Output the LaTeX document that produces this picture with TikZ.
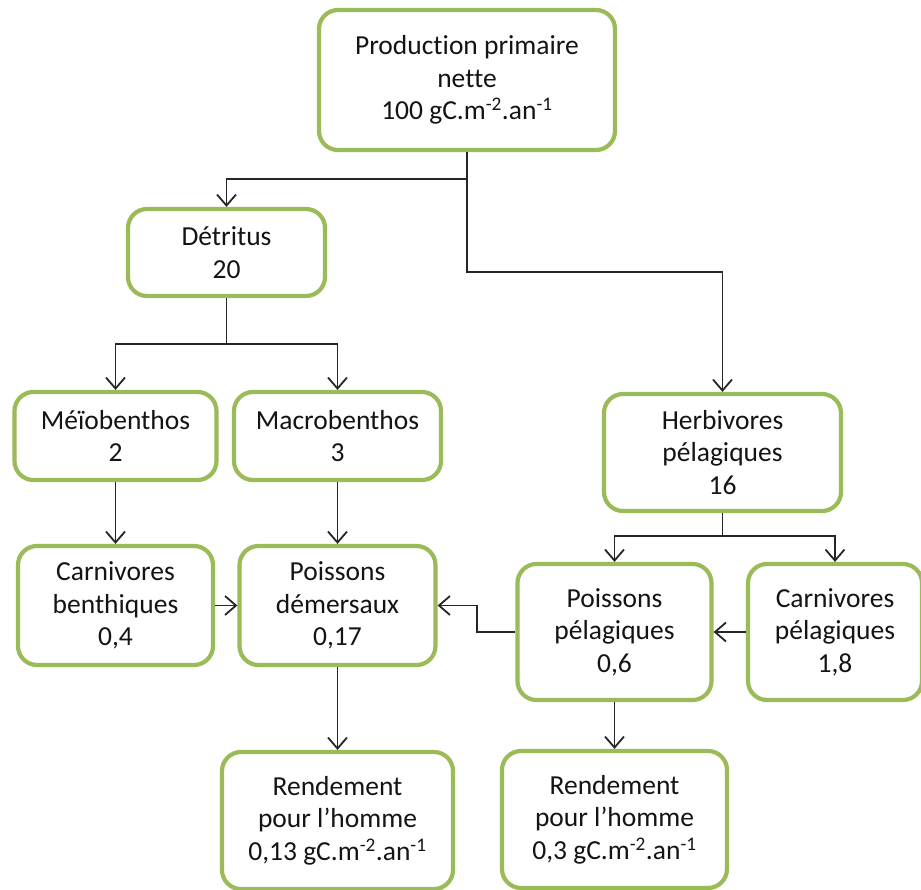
\documentclass[tikz,border=0pt]{standalone}
\usepackage{fontspec}
\setmainfont{Carlito}[Ligatures=CommonOff]
\usetikzlibrary{arrows.meta}
\definecolor{boxgreen}{HTML}{9BBB59}
\definecolor{txt}{HTML}{141414}
\tikzset{
  box/.style={draw=boxgreen, line width=4.2pt, rounded corners=19pt, fill=white,
    inner sep=0pt, align=center, text=txt,
    font=\fontsize{27.5}{32.5}\selectfont},
  conn/.style={draw=black!85, line width=1.8pt},
  arr/.style={conn, -{Straight Barb[length=11pt,width=19pt,line width=1.8pt]}}
}
\begin{document}
\begin{tikzpicture}[x=1pt,y=-1pt]
\useasboundingbox (0,0) rectangle (921,890);
\fill[white] (0,0) rectangle (921,890);

\node[box, minimum width=296pt, minimum height=140pt] (top) at (467,80)
  {Production primaire\\nette\\100 gC.m\textsuperscript{-2}.an\textsuperscript{-1}};
\node[box, minimum width=197pt, minimum height=87pt] (det) at (226.5,252.5)
  {Détritus\\20};
\node[box, minimum width=202pt, minimum height=88pt] (meio) at (115.5,436)
  {Méïobenthos\\2};
\node[box, minimum width=207pt, minimum height=88pt] (macro) at (337.5,436)
  {Macrobenthos\\3};
\node[box, minimum width=237pt, minimum height=117pt] (herb) at (722.5,452.5)
  {Herbivores\\pélagiques\\16};
\node[box, minimum width=195pt, minimum height=119pt] (carnb) at (115.5,605.5)
  {Carnivores\\benthiques\\0,4};
\node[box, minimum width=196pt, minimum height=119pt] (poisd) at (337.5,605.5)
  {Poissons\\démersaux\\0,17};
\node[box, minimum width=194pt, minimum height=136pt] (poisp) at (614.5,632)
  {Poissons\\pélagiques\\0,6};
\node[box, minimum width=174pt, minimum height=136pt] (carnp) at (835,632)
  {Carnivores\\pélagiques\\1,8};
\node[box, minimum width=231pt, minimum height=137pt] (rend1) at (337.5,820.5)
  {Rendement\\pour l’homme\\0,13 gC.m\textsuperscript{-2}.an\textsuperscript{-1}};
\node[box, minimum width=225pt, minimum height=137pt] (rend2) at (614.5,819.5)
  {Rendement\\pour l’homme\\0,3 gC.m\textsuperscript{-2}.an\textsuperscript{-1}};

\coordinate (j1) at (467,179);
\coordinate (j1b) at (467,272);
\coordinate (j2) at (226.5,344);
\coordinate (j3) at (722.5,536);
\coordinate (j4) at (477,632);

\draw[conn] (top.south) -- (j1);
\draw[arr] (j1) -| (det.north);
\draw[arr] (j1) -- (j1b) -| (herb.north);

\draw[conn] (det.south) -- (j2);
\draw[arr] (j2) -| (meio.north);
\draw[arr] (j2) -| (macro.north);

\draw[conn] (herb.south) -- (j3);
\draw[arr] (j3) -| (poisp.north);
\draw[arr] (j3) -| (carnp.north);

\draw[arr] (meio.south) -- (meio.south |- carnb.north);
\draw[arr] (macro.south) -- (macro.south |- poisd.north);
\draw[arr] (carnb.east) -- (poisd.west);
\draw[arr] (poisp.west) -- (j4) |- (poisd.east);
\draw[arr] (carnp.west) -- (poisp.east);
\draw[arr] (poisd.south) -- (poisd.south |- rend1.north);
\draw[arr] (poisp.south) -- (poisp.south |- rend2.north);
\end{tikzpicture}
\end{document}
